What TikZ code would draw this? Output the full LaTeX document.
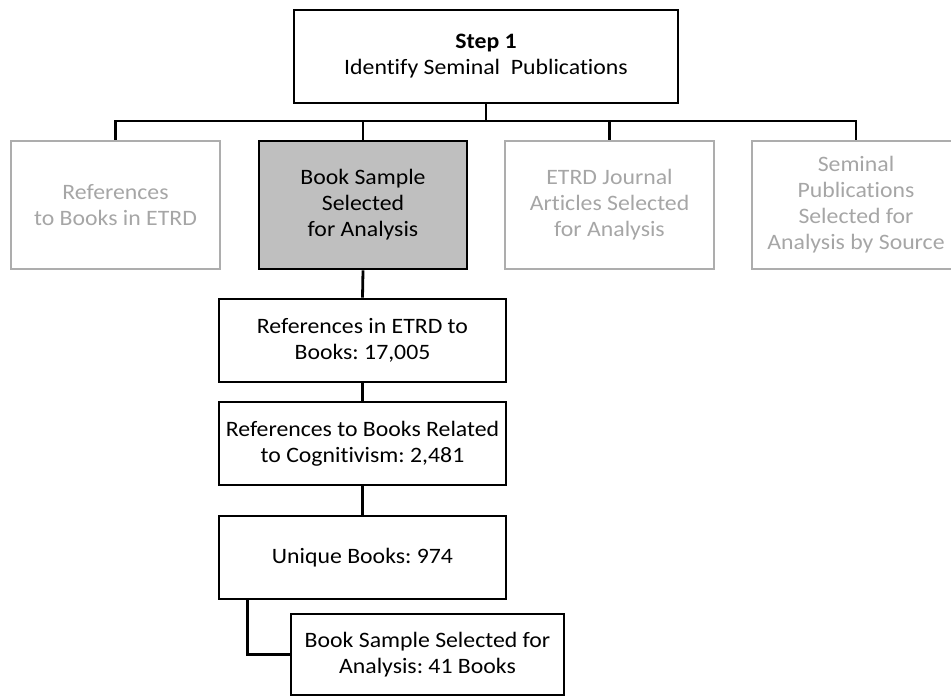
\documentclass[tikz,border=0pt]{standalone}
\usepackage{fontspec}
\setmainfont{Carlito}[FakeStretch=1.08,Ligatures={NoCommon}]
\frenchspacing
\definecolor{boxgray}{HTML}{BFBFBF}
\definecolor{fadeline}{HTML}{ADADAD}
\definecolor{fadetext}{HTML}{A6A6A6}
\begin{document}
\begin{tikzpicture}[x=1pt,y=-1pt,
  every node/.style={font=\fontsize{22}{26}\selectfont},
  box/.style={draw=black,line width=2.8pt,rectangle,align=center,inner sep=0pt},
  fadebox/.style={box,draw=fadeline,text=fadetext},
  selbox/.style={box,fill=boxgray},
  conn/.style={line width=2.8pt,draw=black}]
\useasboundingbox (0,0) rectangle (951,696);
\node[box,minimum width=384pt,minimum height=93pt] (top) at (486,56.5) {\textbf{Step 1}\\Identify Seminal\ \ Publications};
\node[fadebox,minimum width=209pt,minimum height=128pt] (b1) at (115.5,205) {References\\to Books in ETRD};
\node[selbox,minimum width=208pt,minimum height=128pt] (b2) at (363,205) {Book Sample\\Selected\\for Analysis};
\node[fadebox,minimum width=209pt,minimum height=128pt] (b3) at (609.5,205) {ETRD Journal\\Articles Selected\\for Analysis};
\node[fadebox,minimum width=208pt,minimum height=128pt] (b4) at (856,205) {Seminal\\Publications\\Selected for\\Analysis by Source};
\node[box,minimum width=287pt,minimum height=83pt] (ca) at (362.5,340.5) {References in ETRD to\\Books: 17,005};
\node[box,minimum width=287pt,minimum height=83pt] (cb) at (362.5,443.5) {References to Books Related\\to Cognitivism: 2,481};
\node[box,minimum width=287pt,minimum height=83pt] (cc) at (362.5,557.5) {Unique Books: 974};
\node[box,minimum width=273pt,minimum height=81pt] (last) at (427.5,654.5) {Book Sample Selected for\\Analysis: 41 Books};
\coordinate (bar) at (486,121);
\draw[conn] (top.south) -- (bar);
\draw[conn] (b1.north) -- (b1.north |- bar) -| (b4.north);
\draw[conn] (b2.north) -- (b2.north |- bar);
\draw[conn] (b3.north) -- (b3.north |- bar);
\draw[conn] (b2.south) -- (ca.north);
\draw[conn] (ca.south) -- (cb.north);
\draw[conn] (cb.south) -- (cc.north);
\draw[conn] ([xshift=30pt]cc.south west) |- (last.west);
\end{tikzpicture}
\end{document}
